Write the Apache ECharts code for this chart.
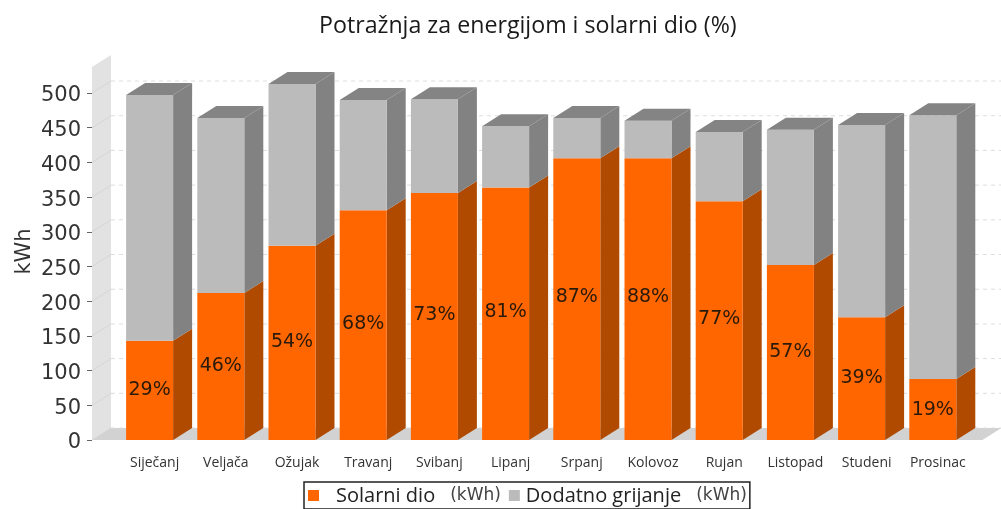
<!DOCTYPE html>
<html>
<head>
<meta charset="utf-8">
<script src="https://cdn.jsdelivr.net/npm/echarts@6/dist/echarts.min.js"></script>
<style>
html,body{margin:0;padding:0;background:#fff}
#main{width:1001px;height:509px}
</style>
</head>
<body>
<div id="main"></div>
<script>
var categories = ['Siječanj','Veljača','Ožujak','Travanj','Svibanj','Lipanj','Srpanj','Kolovoz','Rujan','Listopad','Studeni','Prosinac'];
var solar = [143,212,280,331,356,364,406,406,344,252,177,88];
var extra = [354,252,233,159,135,88,58,54,100,195,277,380];
var shares = ['29%','46%','54%','68%','73%','81%','87%','88%','77%','57%','39%','19%'];
var ticks = [0,50,100,150,200,250,300,350,400,450,500];

// depth of the fake 3d box
var dx = 19, dy = -12;

function poly(points, fill) {
  return {type:'polygon', shape:{points:points}, style:{fill:fill}, silent:true};
}

function renderBar(colors, withTop, withLabel) {
  return function (params, api) {
    var i = api.value(0);
    var from = api.coord([i, api.value(1)]);
    var to = api.coord([i, api.value(1) + api.value(2)]);
    var w = api.size([1, 0])[0] * 0.66;
    var x0 = from[0] - w / 2, x1 = from[0] + w / 2;
    var kids = [
      poly([[x1,from[1]],[x1+dx,from[1]+dy],[x1+dx,to[1]+dy],[x1,to[1]]], colors.side),
      {type:'rect', shape:{x:x0,y:to[1],width:w,height:from[1]-to[1]}, style:{fill:colors.front}}
    ];
    if (withTop) {
      kids.push(poly([[x0,to[1]],[x0+dx,to[1]+dy],[x1+dx,to[1]+dy],[x1,to[1]]], colors.top));
    }
    if (withLabel) {
      kids.push({type:'text', z2:5, style:{
        x:from[0], y:from[1]+(to[1]-from[1])*0.51+1, text:shares[i], align:'center', verticalAlign:'middle',
        fill:'#2a1a0a', font:'19px "DejaVu Sans"'
      }});
    }
    return {type:'group', children:kids};
  };
}

var myChart = echarts.init(document.getElementById('main'));
var option = {
  animation:false,
  backgroundColor:'#fff',
  color:['#FF6600','#BBBBBB'],
  title:{
    text:'Potražnja za energijom i solarni dio (%)',
    left:319, top:15, padding:0,
    textStyle:{fontFamily:'Open Sans', fontSize:23.2, fontWeight:'normal', color:'#1a1a1a'}
  },
  legend:{
    left:304, top:482, itemGap:8, itemWidth:11, itemHeight:11, icon:'rect',
    padding:[3,3,3,4], borderColor:'#222', borderWidth:1.5, borderRadius:0,
    data:['Solarni dio','Dodatno grijanje'],
    formatter:function (name) {
      return name === 'Solarni dio' ? '{first|' + name + '}{unit|(kWh)}' : '{second|' + name + '}{unit|(kWh)}';
    },
    textStyle:{
      fontFamily:'Open Sans', fontSize:20, color:'#222',
      rich:{
        first:{fontFamily:'Open Sans', fontSize:20, color:'#222', lineHeight:24, padding:[1,0,0,12]},
        second:{fontFamily:'Open Sans', fontSize:20, color:'#222', lineHeight:24, padding:[1,0,0,1]},
        unit:{fontFamily:'DejaVu Sans', fontSize:17, color:'#444', lineHeight:24, padding:[1,0,0,15]}
      }
    }
  },
  grid:{left:114, top:67, width:854.4, height:373, outerBoundsMode:'none'},
  xAxis:{
    type:'category', data:categories,
    axisLine:{show:false}, axisTick:{show:false},
    axisLabel:{interval:0, margin:16, padding:[0,0,0,10], fontFamily:'Open Sans', fontSize:14, color:'#333'}
  },
  yAxis:{
    type:'value', name:'kWh', nameLocation:'middle', nameGap:57, nameMoveOverlap:false,
    nameTextStyle:{fontFamily:'DejaVu Sans', fontSize:21, color:'#333', padding:[0,0,0,4]},
    min:0, max:537.5, offset:22,
    axisLine:{show:false},
    axisTick:{show:true, length:5, lineStyle:{color:'#666'}, customValues:ticks},
    axisLabel:{
      margin:11, customValues:ticks,
      formatter:function (v) { return '{n|' + v + '}'; },
      rich:{n:{fontFamily:'DejaVu Sans', fontSize:21, color:'#333', padding:[6,0,0,0]}}
    },
    splitLine:{show:false}
  },
  series:[
    {
      // side wall and floor
      type:'custom', silent:true, z:1, data:[[0]],
      renderItem:function (params, api) {
        var c = params.coordSys;
        var left = c.x - 22;
        var base = c.y + c.height;
        return {type:'group', children:[
          poly([[left,base],[left+dx,base+dy],[left+dx,c.y+dy],[left,c.y]], '#E2E2E2'),
          poly([[left,base],[left+dx,base+dy],[c.x+c.width+33,base+dy],[c.x+c.width+14,base]], '#D2D2D2')
        ]};
      }
    },
    {
      // dashed lines on the back wall, slanted ones on the side wall
      type:'custom', silent:true, z:1, data:ticks.map(function (t) { return [t]; }),
      renderItem:function (params, api) {
        var c = params.coordSys;
        var y = api.coord([0, api.value(0)])[1];
        var left = c.x - 22;
        return {type:'group', children:[
          {type:'line', shape:{x1:left,y1:y,x2:left+dx,y2:y+dy}, style:{stroke:'#D6D6D6', lineWidth:1}},
          {type:'line', shape:{x1:left+dx,y1:y+dy,x2:c.x+c.width+33,y2:y+dy}, style:{stroke:'#DDDDDD', lineWidth:1, lineDash:[4,4]}}
        ]};
      }
    },
    {
      name:'Solarni dio', type:'custom', z:3, itemStyle:{color:'#FF6600'},
      encode:{x:0, y:[1,2]},
      data:solar.map(function (v, i) { return [i, 0, v]; }),
      renderItem:renderBar({front:'#FF6600', side:'#B04A00', top:'#B04A00'}, false, true)
    },
    {
      name:'Dodatno grijanje', type:'custom', z:4, itemStyle:{color:'#BBBBBB'},
      encode:{x:0, y:[1,2]},
      data:extra.map(function (v, i) { return [i, solar[i], v]; }),
      renderItem:renderBar({front:'#BBBBBB', side:'#828282', top:'#848484'}, true, false)
    }
  ]
};
myChart.setOption(option);
</script>
</body>
</html>
